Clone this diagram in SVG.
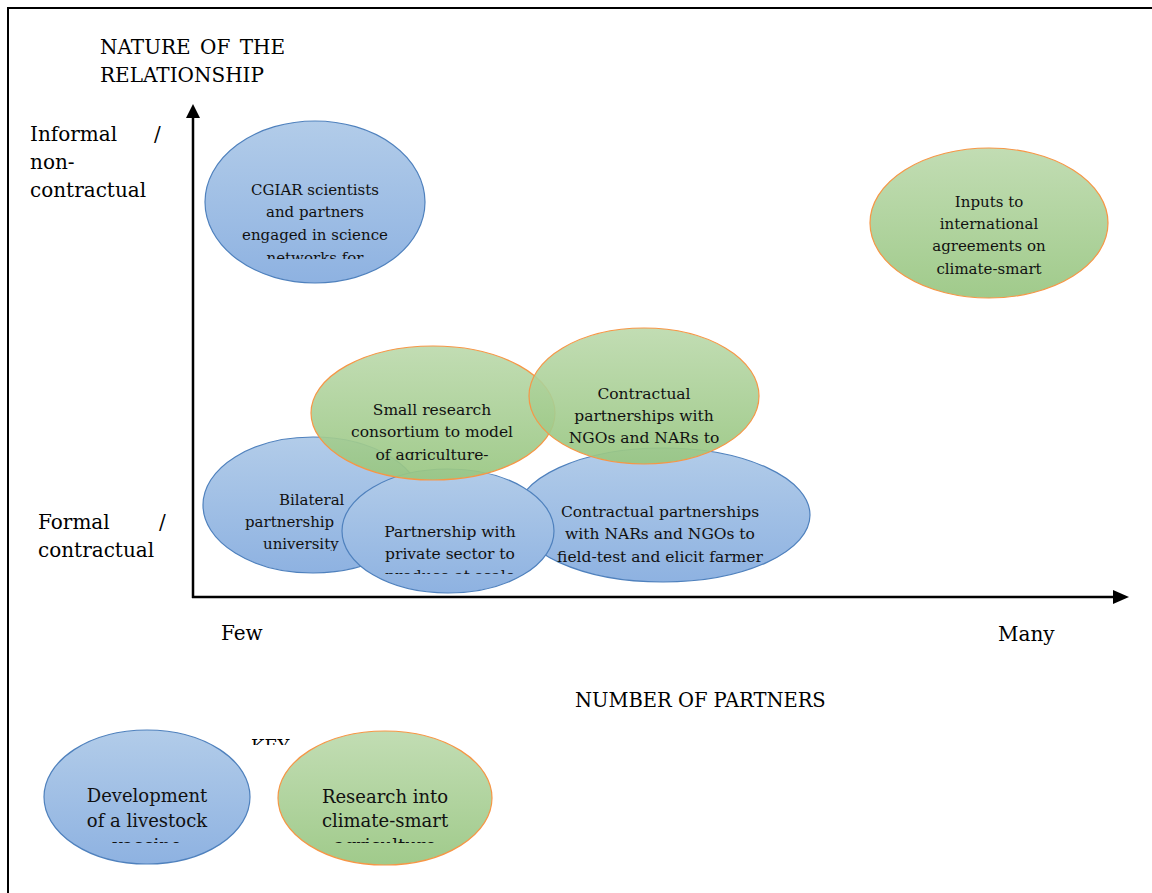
<svg xmlns="http://www.w3.org/2000/svg" width="1152" height="893" viewBox="0 0 1152 893">
<style>
.lbl{font-family:"DejaVu Serif","Liberation Serif",serif;font-size:20px;fill:#000}
.t{font-family:"DejaVu Serif","Liberation Serif",serif;font-size:15px;fill:#111;text-anchor:middle}
.tk{font-family:"DejaVu Serif","Liberation Serif",serif;font-size:18px;fill:#111;text-anchor:middle}
.blue{fill:url(#gb);stroke:#4f81bd;stroke-width:1.2}
.green{fill:url(#gg);stroke:#f79646;stroke-width:1.2}
.axis{stroke:#000;stroke-width:2.5;fill:none}
</style>
<defs>
<linearGradient id="gb" x1="0" y1="0" x2="0" y2="1">
<stop offset="0" stop-color="#b2cce9"/>
<stop offset="1" stop-color="#8eb2e1"/>
</linearGradient>
<linearGradient id="gg" x1="0" y1="0" x2="0" y2="1">
<stop offset="0" stop-color="#bbd9ab" stop-opacity="0.9"/>
<stop offset="1" stop-color="#98c681" stop-opacity="0.92"/>
</linearGradient>
<clipPath id="c1"><rect x="200" y="170" width="230" height="89"/></clipPath>
<clipPath id="c3"><rect x="315" y="390" width="240" height="70"/></clipPath>
<clipPath id="c4"><rect x="530" y="370" width="230" height="78"/></clipPath>
<clipPath id="c5"><rect x="520" y="495" width="290" height="72"/></clipPath>
<clipPath id="c6"><rect x="205" y="480" width="200" height="71"/></clipPath>
<clipPath id="c7"><rect x="345" y="515" width="210" height="59"/></clipPath>
<clipPath id="c8"><rect x="45" y="775" width="205" height="68"/></clipPath>
<clipPath id="c9"><rect x="280" y="775" width="212" height="68"/></clipPath>
<clipPath id="ck"><rect x="240" y="730" width="80" height="15"/></clipPath>
</defs>

<g id="frame">
<line x1="7" y1="8" x2="1152" y2="8" stroke="#000" stroke-width="2"/>
<line x1="8" y1="7" x2="8" y2="893" stroke="#000" stroke-width="2"/>
</g>

<g id="labels">
<text class="lbl" x="100" y="54" word-spacing="3">NATURE OF THE</text>
<text class="lbl" x="100" y="82">RELATIONSHIP</text>
<text class="lbl" x="30" y="141">Informal</text>
<text class="lbl" x="154" y="141">/</text>
<text class="lbl" x="30" y="169">non-</text>
<text class="lbl" x="30" y="197">contractual</text>
<text class="lbl" x="38" y="529">Formal</text>
<text class="lbl" x="159" y="529">/</text>
<text class="lbl" x="38" y="557">contractual</text>
<text class="lbl" x="221" y="640">Few</text>
<text class="lbl" x="998" y="641">Many</text>
<text class="lbl" x="575" y="707" style="font-size:19.5px">NUMBER OF PARTNERS</text>
<text class="lbl" x="251" y="753" style="font-size:18px" clip-path="url(#ck)">KEY</text>
</g>

<g id="connectors">
<line class="axis" x1="193" y1="116" x2="193" y2="598"/>
<polygon points="193,104 186,118 200,118" fill="#000"/>
<line class="axis" x1="192" y1="597" x2="1116" y2="597"/>
<polygon points="1129,597 1113,590 1113,604" fill="#000"/>
</g>

<g id="cgiar">
<ellipse class="blue" cx="315" cy="202" rx="110" ry="81"/>
<g clip-path="url(#c1)">
<text class="t" x="315" y="195">CGIAR scientists</text>
<text class="t" x="315" y="217">and partners</text>
<text class="t" x="315" y="240">engaged in science</text>
<text class="t" x="315" y="263">networks for</text>
</g>
</g>

<g id="inputs">
<ellipse class="green" cx="989" cy="223" rx="119" ry="75"/>
<text class="t" x="989" y="207">Inputs to</text>
<text class="t" x="989" y="229">international</text>
<text class="t" x="989" y="251">agreements on</text>
<text class="t" x="989" y="274">climate-smart</text>
</g>

<g id="bilateral">
<ellipse class="blue" cx="313" cy="505" rx="110" ry="68"/>
<g clip-path="url(#c6)">
<text class="t" x="279" y="505" style="text-anchor:start">Bilateral</text>
<text class="t" x="245" y="527" style="text-anchor:start">partnership</text>
<text class="t" x="263" y="549" style="text-anchor:start">university</text>
</g>
</g>

<g id="contractual-blue">
<ellipse class="blue" cx="663" cy="515" rx="147" ry="67"/>
<g clip-path="url(#c5)">
<text class="t" x="660" y="517" style="font-size:15.5px">Contractual partnerships</text>
<text class="t" x="660" y="539" style="font-size:15.5px">with NARs and NGOs to</text>
<text class="t" x="660" y="562" style="font-size:15.5px">field-test and elicit farmer</text>
</g>
</g>

<g id="private-sector">
<ellipse class="blue" cx="448" cy="531" rx="106" ry="62"/>
<g clip-path="url(#c7)">
<text class="t" x="450" y="537" style="font-size:15.5px">Partnership with</text>
<text class="t" x="450" y="559" style="font-size:15.5px">private sector to</text>
<text class="t" x="450" y="581" style="font-size:15.5px">produce at scale</text>
</g>
</g>

<g id="small-research">
<ellipse class="green" cx="433" cy="413" rx="122" ry="67"/>
<g clip-path="url(#c3)">
<text class="t" x="432" y="415" style="font-size:15.5px">Small research</text>
<text class="t" x="432" y="437" style="font-size:15.5px">consortium to model</text>
<text class="t" x="432" y="460" style="font-size:15.5px">of agriculture-</text>
</g>
</g>

<g id="contractual-green">
<ellipse class="green" cx="644" cy="396" rx="115" ry="68"/>
<g clip-path="url(#c4)">
<text class="t" x="644" y="399" style="font-size:15.5px">Contractual</text>
<text class="t" x="644" y="421" style="font-size:15.5px">partnerships with</text>
<text class="t" x="644" y="443" style="font-size:15.5px">NGOs and NARs to</text>
</g>
</g>

<g id="key-vaccine">
<ellipse class="blue" cx="147" cy="797" rx="103" ry="67"/>
<g clip-path="url(#c8)">
<text class="tk" x="147" y="802">Development</text>
<text class="tk" x="147" y="827">of a livestock</text>
<text class="tk" x="147" y="852">vaccine</text>
</g>
</g>

<g id="key-climate">
<ellipse class="green" cx="385" cy="798" rx="107" ry="67"/>
<g clip-path="url(#c9)">
<text class="tk" x="385" y="803">Research into</text>
<text class="tk" x="385" y="827">climate-smart</text>
<text class="tk" x="385" y="852">agriculture</text>
</g>
</g>
</svg>
